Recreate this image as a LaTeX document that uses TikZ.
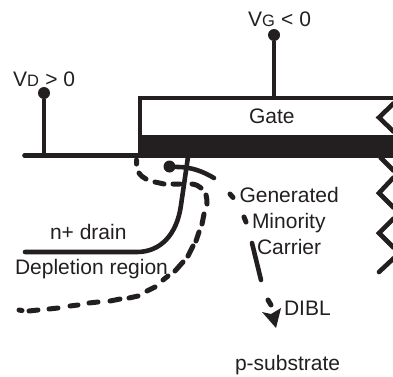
\documentclass[tikz,border=0pt]{standalone}
\usepackage{fontspec}
\setmainfont{Liberation Sans}
\definecolor{ink}{HTML}{231F20}
\usetikzlibrary{arrows.meta}
\tikzset{
  x=1pt,y=-1pt,
  wire/.style={draw=ink,line width=4.6pt,line cap=round,line join=miter},
  plainline/.style={draw=ink,line width=4.6pt,line join=miter},
  curveline/.style={draw=ink,line width=4.6pt,line cap=round,line join=round},
  dashline/.style={draw=ink,line width=5pt,line cap=round},
  pin/.style={circle,fill=ink,inner sep=0pt,minimum size=12pt},
  lab/.style={anchor=base west,inner sep=0pt,outer sep=0pt,text=ink,font=\fontsize{21}{21}\selectfont},
}
\newcommand{\subsz}[1]{{\fontsize{16.5}{16.5}\selectfont #1}}
\begin{document}
\begin{tikzpicture}
\useasboundingbox (0,0) rectangle (393,376);
% oxide bar
\fill[ink] (138,135) rectangle (393,158);
% gate outline
\draw[plainline] (140,156) -- (140,98) -- (393,98);
% drain surface
\node[pin] (vd) at (44,93) {};
\coordinate (vdfoot) at (44,155.5);
\coordinate (dl) at (24.5,155.5);
\coordinate (dr) at (140,155.5);
\draw[wire] (dl) -- (dr);
\draw[plainline] (vd) -- (vdfoot);
% gate pin
\node[pin] (vg) at (274,35) {};
\coordinate (vgfoot) at (274,98);
\draw[plainline] (vg) -- (vgfoot);
% resistor zigzags
\draw[plainline] (394,103) -- (379,117.5) -- (394,132);
\draw[plainline] (380,157) -- (394,171);
\draw[plainline] (394,177) -- (379,193) -- (394,208);
\draw[plainline] (394,218) -- (379,233) -- (394,248);
\draw[wire] (394,258) -- (379,272);
% junction
\coordinate (js) at (188,157);
\coordinate (je) at (25,252);
\draw[curveline] (js) -- (181,205) .. controls (177,235) and (160,252) .. (137,252) -- (je);
% depletion boundary, dashed
\draw[dashline]
  (136.5,160) -- (136.5,164)
  (139,173) .. controls (141,176) and (144,178) .. (146,179)
  (155,182) -- (164,184)
  (173,184) -- (180,184)
  (192,184) .. controls (196,184.5) and (199,186) .. (201,188)
  (206,195) .. controls (207,199) and (207,201) .. (207,204)
  (204,214) -- (202,224)
  (199,232) -- (196,241)
  (193,246) -- (188,256)
  (183,262) -- (175,271)
  (168,276) -- (163,280)
  (155,287) -- (147,291)
  (138,296) -- (129,298)
  (120,299) -- (110,301)
  (98,302) -- (89,303)
  (78,305) -- (70,306)
  (58,308) -- (49,309)
  (38,310) -- (29,311)
  (22,310.5) -- (19,310);
% carrier arc
\node[pin] (carrier) at (169.5,166.5) {};
\coordinate (arcend) at (214,178);
\draw[curveline] (carrier) -- (178,167) .. controls (192,167) and (204,172) .. (arcend);
% carrier trajectory
\coordinate (t1a) at (230,194);
\coordinate (t1b) at (233,197.5);
\coordinate (t2a) at (244,217);
\coordinate (t2b) at (246,222);
\coordinate (t3a) at (252,243);
\coordinate (t3b) at (261,280);
\coordinate (t4a) at (268,300);
\coordinate (t4b) at (271,305);
\draw[dashline] (t1a) -- (t1b) (t2a) -- (t2b) (t4a) -- (t4b);
\draw[curveline] (t3a) -- (t3b);
\fill[ink] (276,328) -- (262,312) -- (271,314) -- (281,308) -- cycle;
% labels
\node[lab] (lvd) at (13,86) {V\subsz{D} \kern0.5pt> 0};
\node[lab] (lvg) at (248,26) {V\subsz{G} \kern0.5pt< 0};
\node[lab] (lgate) at (249,123) {Gate};
\node[lab] (lgen) at (239.5,202) {Generated};
\node[lab] (lmin) at (252,228) {Minority};
\node[lab] (lcar) at (257,254) {Carrier};
\node[lab] (ldibl) at (284,315) {DIBL};
\node[lab] (lsub) at (235,370) {p-substrate};
\node[lab] (ldrain) at (50,239) {n+ drain};
\node[lab] (ldep) at (15,274) {Depletion region};
\end{tikzpicture}
\end{document}
